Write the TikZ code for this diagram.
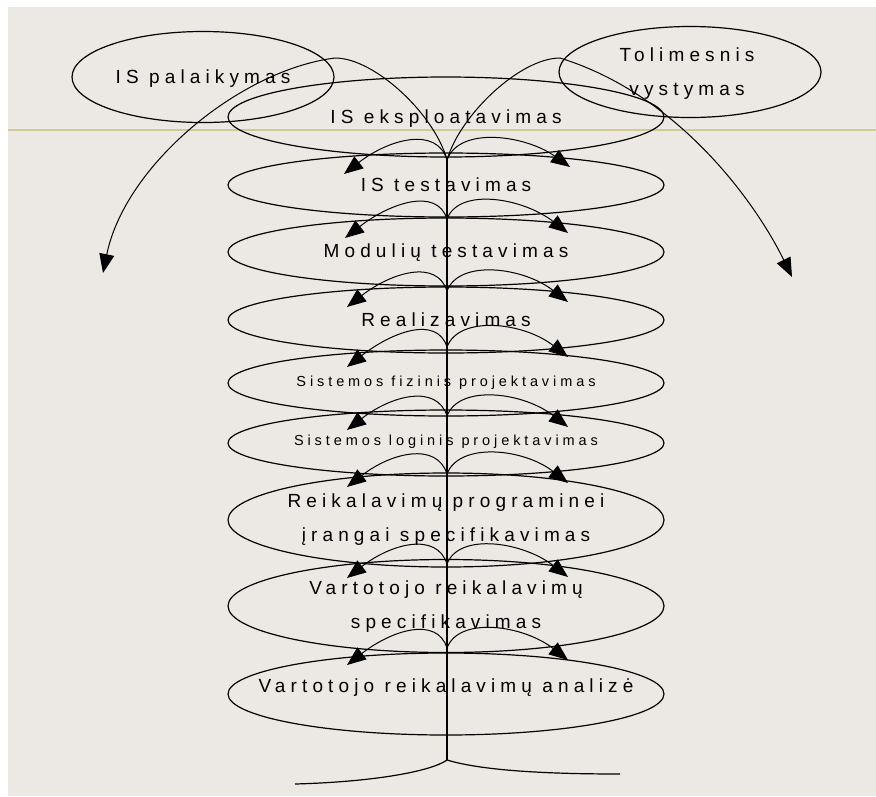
\documentclass[tikz,border=0pt]{standalone}
\usepackage{fontspec}
\setmainfont{Liberation Sans}
\newfontfamily\stagefont[LetterSpace=27]{Liberation Sans}
\usetikzlibrary{shapes.geometric, arrows.meta}

\definecolor{paper}{HTML}{ECE8E4}
\definecolor{ruler}{HTML}{D6C796}

\begin{document}
\begin{tikzpicture}[
    x=1pt, y=-1pt,
    stage/.style={draw, ellipse, line width=1.2pt, minimum width=436pt, inner sep=0pt},
    side/.style={draw, ellipse, line width=1.2pt, minimum width=262pt, minimum height=91pt, inner sep=0pt},
    caption/.style={align=center, inner sep=0pt, font=\stagefont\fontsize{19}{34}\selectfont},
    smallcaption/.style={align=center, inner sep=0pt, font=\stagefont\fontsize{14.5}{20}\selectfont},
    trunk/.style={line width=1.2pt},
    branch/.style={line width=1pt, -{Triangle[length=19pt, width=15pt]}}
]

    % ================= CANVAS =================
    \useasboundingbox (0,0) rectangle (876,796);
    \fill[paper] (8,7) rectangle (876,796);
    \draw[ruler, line width=2pt] (8,130) -- (876,130);

    % ================= SIDE ELLIPSES =================
    \node[side] (pal) at (203,77) {};
    \node[caption] (pal_t) at (203,79) {IS palaikymas};
    \node[side] (tol) at (690,72) {};
    \node[caption] (tol_t) at (687,74) {Tolimesnis\\vystymas};

    % ================= STAGES =================
    \node[stage, minimum height=80pt] (eks) at (446,117) {};
    \node[caption] (eks_t) at (446,119) {IS eksploatavimas};

    \node[stage, minimum height=64pt] (tst) at (446,185) {};
    \node[caption] (tst_t) at (446,185) {IS testavimas};

    \node[stage, minimum height=68pt] (mod) at (446,252) {};
    \node[caption] (mod_t) at (446,253) {Modulių testavimas};

    \node[stage, minimum height=66pt] (rea) at (446,320) {};
    \node[caption] (rea_t) at (446,320) {Realizavimas};

    \node[stage, minimum height=66pt] (fiz) at (446,383) {};
    \node[smallcaption] (fiz_t) at (446,383) {Sistemos fizinis projektavimas};

    \node[stage, minimum height=66pt] (log) at (446,443) {};
    \node[smallcaption] (log_t) at (446,442) {Sistemos loginis projektavimas};

    \node[stage, minimum height=94pt] (rps) at (446,520) {};
    \node[caption] (rps_t) at (446,520) {Reikalavimų programinei\\įrangai specifikavimas};

    \node[stage, minimum height=93pt] (vrs) at (446,606) {};
    \node[caption] (vrs_t) at (446,607) {Vartotojo reikalavimų\\specifikavimas};

    \node[stage, minimum height=82pt] (vra) at (446,694) {};
    \node[caption] (vra_t) at (446,688) {Vartotojo reikalavimų analizė};

    % ================= JUNCTIONS ON THE TRUNK =================
    \coordinate (j0) at (447,160); \coordinate (j0w) at (344,174); \coordinate (j0e) at (570,167);
    \coordinate (j1) at (447,219); \coordinate (j1w) at (345,238); \coordinate (j1e) at (568,233);
    \coordinate (j2) at (447,291); \coordinate (j2w) at (347,307); \coordinate (j2e) at (568,302);
    \coordinate (j3) at (447,347); \coordinate (j3w) at (347,367); \coordinate (j3e) at (568,357);
    \coordinate (j4) at (447,416); \coordinate (j4w) at (347,430); \coordinate (j4e) at (568,427);
    \coordinate (j5) at (447,474); \coordinate (j5w) at (347,487); \coordinate (j5e) at (568,483);
    \coordinate (j6) at (447,564); \coordinate (j6w) at (347,578); \coordinate (j6e) at (568,577);
    \coordinate (j7) at (447,648); \coordinate (j7w) at (347,665); \coordinate (j7e) at (568,660);

    \coordinate (farw) at (103,273);
    \coordinate (fare) at (792,277);
    \coordinate (root) at (447,760);
    \coordinate (rootw) at (295,784);
    \coordinate (roote) at (620,774);

    % ================= TRUNK AND ROOT =================
    \draw[trunk] (j0) -- (root);
    \draw[trunk] (root) .. controls (430,772) and (370,782) .. (rootw);
    \draw[trunk] (root) .. controls (480,770) and (540,774) .. (roote);

    % ================= BRANCHES =================
    % Leaving the system: support and further development
    \draw[branch] (j0) .. controls (435,115) and (375,58) .. (335,58)
        .. controls (240,70) and (125,165) .. (farw);
    \draw[branch] (j0) .. controls (460,115) and (520,58) .. (560,58)
        .. controls (680,95) and (757,205) .. (fare);

    % Between the stages
    \draw[branch] (j0) .. controls +(-10,-34) and +(45,-35) .. (j0w);
    \draw[branch] (j0) .. controls +(12,-34) and +(-45,-32) .. (j0e);
    \draw[branch] (j1) .. controls +(-10,-32) and +(45,-35) .. (j1w);
    \draw[branch] (j1) .. controls +(12,-32) and +(-45,-35) .. (j1e);
    \draw[branch] (j2) .. controls +(-10,-32) and +(45,-35) .. (j2w);
    \draw[branch] (j2) .. controls +(12,-32) and +(-45,-35) .. (j2e);
    \draw[branch] (j3) .. controls +(-10,-32) and +(45,-35) .. (j3w);
    \draw[branch] (j3) .. controls +(12,-32) and +(-45,-35) .. (j3e);
    \draw[branch] (j4) .. controls +(-10,-32) and +(45,-35) .. (j4w);
    \draw[branch] (j4) .. controls +(12,-32) and +(-45,-35) .. (j4e);
    \draw[branch] (j5) .. controls +(-10,-32) and +(45,-35) .. (j5w);
    \draw[branch] (j5) .. controls +(12,-32) and +(-45,-35) .. (j5e);
    \draw[branch] (j6) .. controls +(-10,-32) and +(45,-35) .. (j6w);
    \draw[branch] (j6) .. controls +(12,-32) and +(-45,-35) .. (j6e);
    \draw[branch] (j7) .. controls +(-10,-32) and +(45,-35) .. (j7w);
    \draw[branch] (j7) .. controls +(12,-32) and +(-45,-35) .. (j7e);

\end{tikzpicture}
\end{document}
